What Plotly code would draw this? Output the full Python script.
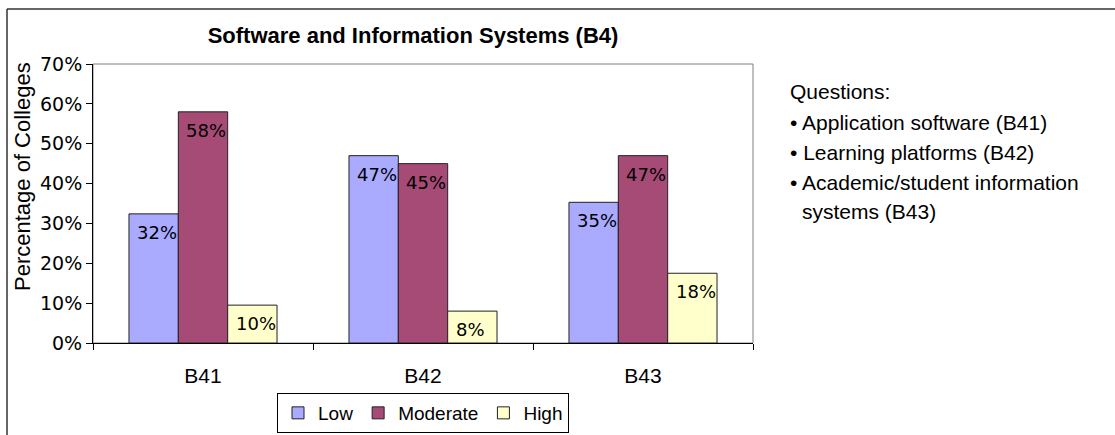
import plotly.graph_objects as go

categories = ["B41", "B42", "B43"]
series_names = ["Low", "Moderate", "High"]
low = [0.324, 0.47, 0.353]
moderate = [0.58, 0.45, 0.47]
high = [0.095, 0.08, 0.175]
label_low = ["32%", "47%", "35%"]
label_moderate = ["58%", "45%", "47%"]
label_high = ["10%", "8%", "18%"]
colors = ["#AAAAFF", "#A64A76", "#FFFFCC"]
y_ticks = [0, 0.1, 0.2, 0.3, 0.4, 0.5, 0.6, 0.7]
y_ticklabels = ["0%", "10%", "20%", "30%", "40%", "50%", "60%", "70%"]
questions = [
    "Questions:",
    "\u2022 Application software (B41)",
    "\u2022 Learning platforms (B42)",
    "\u2022 Academic/student information",
    "systems (B43)",
]

values = [low, moderate, high]
labels = [label_low, label_moderate, label_high]

W, H = 1115, 435
L, R, T, B = 93, 753, 64, 343  # plot area in pixels


def px_x(px):
    return (px - L) / (R - L)


def px_y(py):
    return (B - py) / (B - T)


ARIAL = "Liberation Sans, Arial, sans-serif"
VERD = "DejaVu Sans, Verdana, sans-serif"

fig = go.Figure()
for name, vals, col in zip(series_names, values, colors):
    fig.add_trace(go.Bar(
        x=categories, y=vals, name=name,
        marker=dict(color=col, line=dict(color="#222222", width=1)),
        hoverinfo="skip",
    ))

bar_w = (R - L) / 3 * (1 - 0.327) / 3
annotations = []
for i, (vals, labs) in enumerate(zip(values, labels)):
    for c, v, t in zip(categories, vals, labs):
        annotations.append(dict(
            x=c, y=v, xref="x", yref="y", text=t, showarrow=False,
            xanchor="left", yanchor="top",
            xshift=(i - 1) * bar_w - bar_w / 2 + 6, yshift=-6,
            font=dict(family=VERD, size=18, color="#000000"),
        ))

# y axis title
annotations.append(dict(
    x=px_x(22), y=px_y(177), xref="paper", yref="paper",
    text="Percentage of Colleges", showarrow=False, textangle=-90,
    font=dict(family=ARIAL, size=22, color="#000000"),
    xanchor="center", yanchor="middle",
))

# questions text block
q_y = [92, 122, 152, 182, 211]
q_x = [788, 788, 788, 788, 800]
for t, yy, xx in zip(questions, q_y, q_x):
    annotations.append(dict(
        x=px_x(xx), y=px_y(yy), xref="paper", yref="paper", text=t,
        showarrow=False, xanchor="left", yanchor="middle",
        font=dict(family=ARIAL, size=21, color="#000000"),
    ))

shapes = [
    # plot frame (top/right)
    dict(type="rect", xref="paper", yref="paper", x0=0, x1=1, y0=0, y1=1,
         line=dict(color="#808080", width=1), layer="below"),
    # outer chart border (top and left)
    dict(type="line", xref="paper", yref="paper", x0=px_x(7), x1=px_x(1116),
         y0=px_y(9), y1=px_y(9), line=dict(color="#333333", width=1.5)),
    dict(type="line", xref="paper", yref="paper", x0=px_x(7), x1=px_x(7),
         y0=px_y(9), y1=px_y(436), line=dict(color="#333333", width=1.5)),
]

fig.update_layout(
    width=W, height=H,
    margin=dict(l=L, r=W - R, t=T, b=H - B, pad=0, autoexpand=False),
    paper_bgcolor="white", plot_bgcolor="white",
    barmode="group", bargap=0.327, bargroupgap=0,
    title=dict(text="<b>Software and Information Systems (B4)</b>",
               x=px_x(413), xref="paper", xanchor="center",
               y=1 - 35 / H, yref="container", yanchor="middle",
               font=dict(family=ARIAL, size=22, color="#000000")),
    xaxis=dict(showline=True, linecolor="#000000", linewidth=1,
               ticks="outside", ticklen=6, tickcolor="#000000",
               tickson="boundaries", ticklabelstandoff=14,
               tickfont=dict(family=ARIAL, size=21, color="#000000"),
               showgrid=False, zeroline=False, automargin=False),
    yaxis=dict(range=[0, 0.7], tickvals=y_ticks, ticktext=y_ticklabels,
               showline=True, linecolor="#000000", linewidth=1,
               ticks="outside", ticklen=6, tickcolor="#000000",
               tickfont=dict(family=VERD, size=19, color="#000000"),
               showgrid=False, zeroline=False, automargin=False),
    showlegend=True,
    legend=dict(orientation="h", x=0.5, xanchor="center",
                y=px_y(433), yanchor="bottom",
                bordercolor="#000000", borderwidth=1, bgcolor="white",
                font=dict(family=ARIAL, size=19, color="#000000"),
                itemwidth=30, tracegroupgap=0),
    annotations=annotations, shapes=shapes,
)

fig.write_html("out.html")
